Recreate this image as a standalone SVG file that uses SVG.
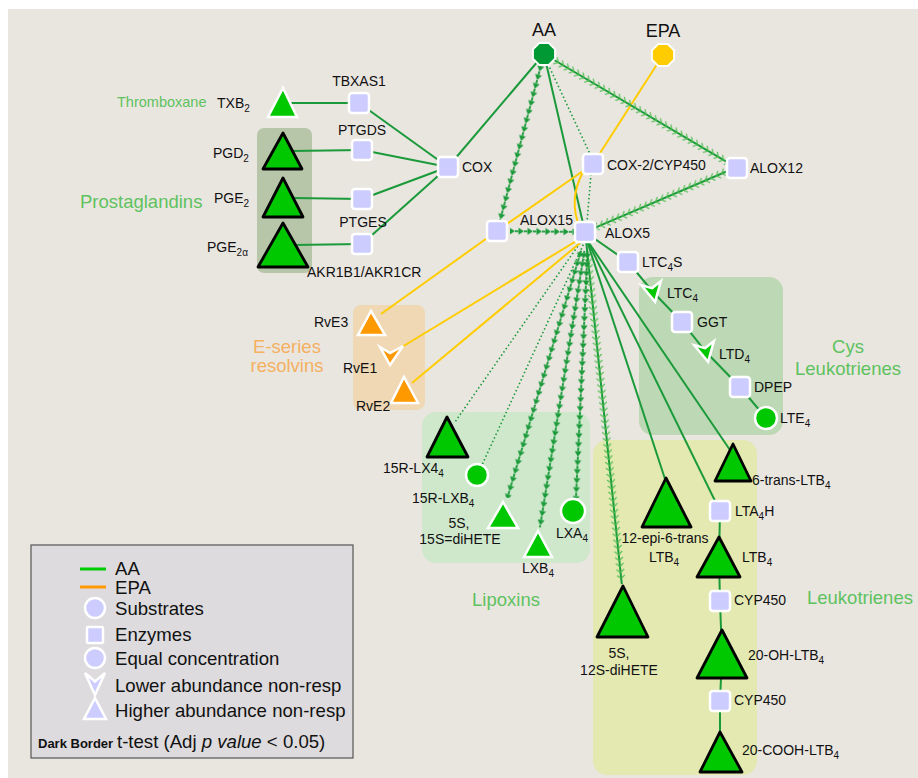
<svg xmlns="http://www.w3.org/2000/svg" width="918" height="778" viewBox="0 0 918 778">
<style>
text{font-family:"Liberation Sans",Arial,Helvetica,sans-serif;font-size:14px;fill:#111}
.s{font-size:10px}
.grp{fill:#5ec25e;font-size:18.5px}
.ers{fill:#f5b060;font-size:18.5px}
.big{font-size:18px}
.lg{font-size:18.6px}
.ln{stroke:#1b9a3a;stroke-width:2;fill:none}
.dot{stroke:#1b9a3a;stroke-width:1.6;stroke-dasharray:1.5 2.5;fill:none}
.yl{stroke:#ffcc00;stroke-width:2;fill:none}
.enz{fill:#ccccff;stroke:#fff;stroke-width:2.5}
.up{fill:#00c800;stroke:#fff;stroke-width:2.5}
.sig{fill:#00c800;stroke:#000;stroke-width:2.8;stroke-linejoin:round}
.or{fill:#ff9900;stroke:#fff;stroke-width:2.5}
</style>
<defs>
<pattern id="chev" width="6" height="10" patternUnits="userSpaceOnUse" y="-5">
<path d="M1,1.2 L4.6,5 L1,8.8" fill="none" stroke="#4cbb4c" stroke-width="1.1"/>
</pattern>
<pattern id="arr" width="9" height="8" patternUnits="userSpaceOnUse" y="-4">
<rect x="0" y="3.1" width="3.5" height="1.8" fill="#1b9a3a"/>
<path d="M3.5,0.6 L9,4 L3.5,7.4Z" fill="#1b9a3a"/>
</pattern>
</defs>
<rect x="8" y="9" width="910" height="769" fill="#e9e6e0"/>
<g id="groups">
<rect x="257" y="128" width="55" height="145" rx="7" fill="#b7c6a8"/>
<rect x="353" y="305" width="72" height="105" rx="8" fill="#efd8b3"/>
<rect x="422" y="412" width="168" height="151" rx="14" fill="#cfe8cc"/>
<rect x="639" y="277" width="144" height="158" rx="14" fill="#bdd8b5"/>
<rect x="593" y="440" width="164" height="335" rx="14" fill="#e3e9b1"/>
</g>
<g id="connectors">
<line class="ln" x1="544" y1="54" x2="448" y2="167"/>
<line class="ln" x1="544" y1="54" x2="585" y2="232"/>
<line class="ln" x1="290" y1="103" x2="359" y2="103"/>
<line class="ln" x1="292" y1="151" x2="362" y2="150"/>
<line class="ln" x1="293" y1="198" x2="362" y2="199"/>
<line class="ln" x1="293" y1="245" x2="362" y2="244"/>
<line class="ln" x1="359" y1="103" x2="448" y2="167"/>
<line class="ln" x1="362" y1="150" x2="448" y2="167"/>
<line class="ln" x1="362" y1="199" x2="448" y2="167"/>
<line class="ln" x1="362" y1="244" x2="448" y2="167"/>
<line class="ln" x1="585" y1="232" x2="628" y2="262"/>
<polyline class="ln" points="628,262 653,292 682,322 706,352 740,387 766,418"/>
<line class="ln" x1="589" y1="243" x2="730" y2="450"/>
<line class="ln" x1="588" y1="242" x2="720" y2="511"/>
<line class="ln" x1="587" y1="241" x2="666" y2="482"/>
<polyline class="ln" points="720,511 719,560 720,601 722,655 720,701 720,750"/>
<line class="dot" x1="548" y1="64" x2="590" y2="154"/>
<line class="dot" x1="591" y1="174" x2="587" y2="222"/>
<line class="dot" x1="580" y1="243" x2="455" y2="422"/>
<line class="dot" x1="585" y1="241" x2="482" y2="465"/>
<line class="yl" x1="663" y1="55" x2="593" y2="164"/>
<polyline class="yl" points="593,164 497,231 381,314"/>
<path class="yl" d="M583,172 Q568,200 580,228"/>
<line class="yl" x1="578" y1="240" x2="397" y2="350"/>
<line class="yl" x1="580" y1="243" x2="412" y2="383"/>
<g transform="translate(544 54) rotate(30.57)"><line class="ln" x1="0" y1="0" x2="224" y2="0"/><rect x="12" y="-5" width="200" height="10" fill="url(#chev)"/></g>
<g transform="translate(737 167) rotate(156.84)"><line class="ln" x1="0" y1="0" x2="165" y2="0"/><rect x="12" y="-5" width="141" height="10" fill="url(#chev)"/></g>
<g transform="translate(586 240) rotate(84.06)"><line class="ln" x1="0" y1="0" x2="346" y2="0"/><rect x="14" y="-5" width="326" height="10" fill="url(#chev)"/></g>
<g transform="translate(544 54) rotate(104.79)"><rect x="12" y="-4" width="162" height="8" fill="url(#arr)"/></g>
<g transform="translate(497 231) rotate(0.65)"><rect x="13" y="-4" width="64" height="8" fill="url(#arr)"/></g>
<g transform="translate(584 241) rotate(106.62)"><rect x="10" y="-4" width="258" height="8" fill="url(#arr)"/></g>
<g transform="translate(586 241) rotate(99.14)"><rect x="10" y="-4" width="280" height="8" fill="url(#arr)"/></g>
<g transform="translate(588 241) rotate(92.68)"><rect x="10" y="-4" width="247" height="8" fill="url(#arr)"/></g>
</g>
<g id="AA"><polygon points="548.6,42.9 555.1,49.4 555.1,58.6 548.6,65.1 539.4,65.1 532.9,58.6 532.9,49.4 539.4,42.9" fill="#009933" stroke="#fff" stroke-width="2"/><text x="544" y="36" text-anchor="middle" class="big">AA</text></g>
<g id="EPA"><polygon points="667.6,43.9 674.1,50.4 674.1,59.6 667.6,66.1 658.4,66.1 651.9,59.6 651.9,50.4 658.4,43.9" fill="#ffcc00" stroke="#fff" stroke-width="2"/><text x="663" y="37" text-anchor="middle" class="big">EPA</text></g>
<g id="COX"><rect class="enz" x="438" y="157" width="20" height="20" rx="3"/><text x="462" y="172">COX</text></g>
<g id="COX2"><rect class="enz" x="583" y="154" width="20" height="20" rx="3"/><text x="607" y="170">COX-2/CYP450</text></g>
<g id="ALOX12"><rect class="enz" x="727" y="158" width="20" height="20" rx="3"/><text x="750" y="173">ALOX12</text></g>
<g id="ALOX15"><rect class="enz" x="487" y="221" width="20" height="20" rx="3"/><text x="520" y="225">ALOX15</text></g>
<g id="ALOX5"><rect class="enz" x="575" y="222" width="20" height="20" rx="3"/><text x="605" y="238">ALOX5</text></g>
<g id="TBXAS1"><rect class="enz" x="349" y="93" width="20" height="20" rx="3"/><text x="359" y="86" text-anchor="middle">TBXAS1</text></g>
<g id="PTGDS"><rect class="enz" x="352" y="140" width="20" height="20" rx="3"/><text x="362" y="135" text-anchor="middle">PTGDS</text></g>
<g id="PTGES"><rect class="enz" x="352" y="189" width="20" height="20" rx="3"/><text x="363" y="227" text-anchor="middle">PTGES</text></g>
<g id="AKR"><rect class="enz" x="352" y="234" width="20" height="20" rx="3"/><text x="307" y="277">AKR1B1/AKR1CR</text></g>
<g id="TXB2"><polygon class="up" points="283,88 297,117 268,117"/><text x="217" y="108">TXB<tspan class="s" dy="4">2</tspan></text><text x="117" y="107" class="grp" style="font-size:14.5px">Thromboxane</text></g>
<g id="PGD2"><polygon class="sig" points="283,133 302,169 263,169"/><text x="213" y="158">PGD<tspan class="s" dy="4">2</tspan></text></g>
<g id="PGE2"><polygon class="sig" points="283,178 303,217 263,217"/><text x="214" y="203">PGE<tspan class="s" dy="4">2</tspan></text></g>
<g id="PGE2a"><polygon class="sig" points="283,223 308,267 258,267"/><text x="207" y="252">PGE<tspan class="s" dy="4">2α</tspan></text></g>
<g id="prostaglandins"><text x="80" y="208" class="grp">Prostaglandins</text></g>
<g id="LTC4S"><rect class="enz" x="618" y="252" width="20" height="20" rx="3"/><text x="642" y="267">LTC<tspan class="s" dy="4">4</tspan><tspan dy="-4">S</tspan></text></g>
<g id="LTC4"><polygon class="up" points="-10,-9 0,-4 10,-9 0,10" transform="translate(653 292) rotate(-12)"/><text x="667" y="298">LTC<tspan class="s" dy="4">4</tspan></text></g>
<g id="GGT"><rect class="enz" x="672" y="312" width="20" height="20" rx="3"/><text x="697" y="327">GGT</text></g>
<g id="LTD4"><polygon class="up" points="-10,-9 0,-4 10,-9 0,10" transform="translate(706 352) rotate(-12)"/><text x="719" y="359">LTD<tspan class="s" dy="4">4</tspan></text></g>
<g id="DPEP"><rect class="enz" x="730" y="377" width="20" height="20" rx="3"/><text x="754" y="392">DPEP</text></g>
<g id="LTE4"><circle class="up" cx="766" cy="418" r="11"/><text x="780" y="423">LTE<tspan class="s" dy="4">4</tspan></text></g>
<g id="cys"><text x="848" y="353" text-anchor="middle" class="grp">Cys</text><text x="848" y="375" text-anchor="middle" class="grp">Leukotrienes</text></g>
<g id="RvE3"><polygon class="or" points="371,311 385,335 358,335"/><text x="314" y="327">RvE3</text></g>
<g id="RvE1"><polygon class="or" points="-11,-8 -1,-2 12,-9 -1,10" transform="translate(391 355)"/><text x="343" y="373">RvE1</text></g>
<g id="RvE2"><polygon class="or" points="404,377 418,403 391,403"/><text x="356" y="411">RvE2</text></g>
<g id="eseries"><text x="287" y="353" text-anchor="middle" class="ers">E-series</text><text x="287" y="372" text-anchor="middle" class="ers">resolvins</text></g>
<g id="LX15R"><polygon class="sig" points="447,417 468,457 427,457"/><text x="383" y="473">15R-LX4<tspan class="s" dy="4">4</tspan></text></g>
<g id="LXB15R"><circle class="up" cx="477" cy="475" r="11"/><text x="412" y="503">15R-LXB<tspan class="s" dy="4">4</tspan></text></g>
<g id="diHETE15"><polygon class="up" points="503,502 518,528 488,528"/><text x="459" y="528" text-anchor="middle">5S,</text><text x="460" y="544" text-anchor="middle">15S=diHETE</text></g>
<g id="LXB4"><polygon class="up" points="538,531 552,557 524,557"/><text x="522" y="573">LXB<tspan class="s" dy="4">4</tspan></text></g>
<g id="LXA4"><circle class="up" cx="573" cy="511" r="12"/><text x="556" y="538">LXA<tspan class="s" dy="4">4</tspan></text></g>
<g id="lipoxins"><text x="506" y="606" text-anchor="middle" class="grp">Lipoxins</text></g>
<g id="LTB6t"><polygon class="sig" points="733,444 751,481 715,481"/><text x="752" y="485">6-trans-LTB<tspan class="s" dy="4">4</tspan></text></g>
<g id="LTB12epi"><polygon class="sig" points="666,478 691,527 642,527"/><text x="665" y="543" text-anchor="middle">12-epi-6-trans</text><text x="664" y="562" text-anchor="middle">LTB<tspan class="s" dy="4">4</tspan></text></g>
<g id="LTA4H"><rect class="enz" x="710" y="501" width="20" height="20" rx="3"/><text x="735" y="516">LTA<tspan class="s" dy="4">4</tspan><tspan dy="-4">H</tspan></text></g>
<g id="LTB4"><polygon class="sig" points="719,537 740,577 697,577"/><text x="742" y="562">LTB<tspan class="s" dy="4">4</tspan></text></g>
<g id="CYP450a"><rect class="enz" x="710" y="591" width="20" height="20" rx="3"/><text x="734" y="605">CYP450</text></g>
<g id="OHLTB4"><polygon class="sig" points="722,630 747,678 697,678"/><text x="748" y="660">20-OH-LTB<tspan class="s" dy="4">4</tspan></text></g>
<g id="CYP450b"><rect class="enz" x="710" y="691" width="20" height="20" rx="3"/><text x="734" y="705">CYP450</text></g>
<g id="COOHLTB4"><polygon class="sig" points="720,732 742,772 700,772"/><text x="742" y="755">20-COOH-LTB<tspan class="s" dy="4">4</tspan></text></g>
<g id="diHETE12"><polygon class="sig" points="623,586 648,637 597,637"/><text x="619" y="658" text-anchor="middle">5S,</text><text x="619" y="675" text-anchor="middle">12S-diHETE</text></g>
<g id="leukotrienes"><text x="807" y="604" class="grp">Leukotrienes</text></g>
<g id="legend">
<rect x="31" y="545" width="322" height="213" fill="#dddbdd" stroke="#555" stroke-width="1.2"/>
<line x1="80" y1="569" x2="106" y2="569" stroke="#00cc00" stroke-width="3"/>
<text x="115" y="575" class="lg">AA</text>
<line x1="80" y1="587" x2="106" y2="587" stroke="#ff9900" stroke-width="3"/>
<text x="115" y="594" class="lg">EPA</text>
<circle cx="95" cy="608" r="10" class="enz"/>
<text x="115" y="615" class="lg">Substrates</text>
<rect x="87" y="627" width="16" height="16" class="enz" rx="1"/>
<text x="115" y="641" class="lg">Enzymes</text>
<circle cx="95" cy="658" r="10" class="enz"/>
<text x="115" y="665" class="lg">Equal concentration</text>
<polygon points="85,673 95,681.5 105,673 95,695" class="enz"/>
<text x="115" y="692" class="lg">Lower abundance non-resp</text>
<polygon points="95,698 106,719 84,719" class="enz"/>
<text x="115" y="717" class="lg">Higher abundance non-resp</text>
<text x="38" y="748" style="font-size:13px;font-weight:bold">Dark Border</text>
<text x="117" y="748" class="lg">t-test (Adj <tspan font-style="italic">p value</tspan> &lt; 0.05)</text>
</g>
</svg>
